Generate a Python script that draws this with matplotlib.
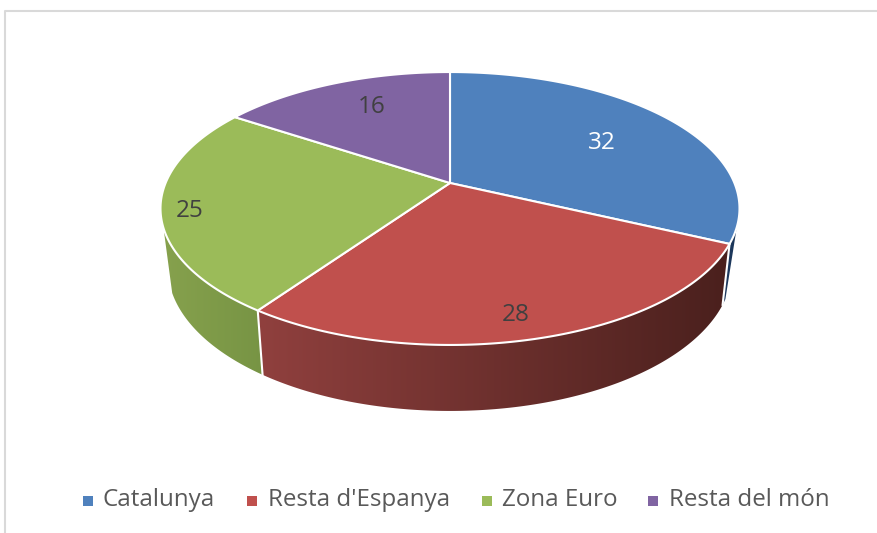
import numpy as np
import matplotlib
matplotlib.use("Agg")
from matplotlib import pyplot as plt
from matplotlib.patches import Polygon

# Data, the shares are estimated from the slice edges, labels show them rounded
categories = ['Catalunya', "Resta d'Espanya", 'Zona Euro', 'Resta del món']
values = [32.0, 27.7, 24.6, 15.7]
colors = ['#4F81BD', '#C0504D', '#9BBB59', '#8064A2']
label_colors = ['white', '#404040', '#404040', '#404040']

# Pie geometry in pixels, the tilt is a simple perspective projection
cx, cy = 450, 183
a, b, k = 284.4, 131.7, 0.1868
text_font = ['Open Sans', 'DejaVu Sans']


def top_rim(theta):
    x = np.sin(theta)
    y = np.cos(theta)
    d = 1 + k * y
    return cx + a * x / d, cy - b * y / d


def bottom_rim(theta):
    x, y = top_rim(theta)
    return cx + 0.975 * (x - cx), y + 66 - (345 - y) * 0.05


def angle_at_y(rim, target_y, lo, hi):
    # angle between lo and hi (degrees) where the rim passes target_y
    t = np.radians(np.linspace(lo, hi, 721))
    return t[np.argmin(np.abs(rim(t)[1] - target_y))]


def side_wall(ax, t_seam, t_top, t_bottom, left_color, right_color):
    xt, yt = top_rim(np.linspace(t_seam, t_top, 200))
    xb, yb = bottom_rim(np.linspace(t_bottom, t_seam, 200))
    pts = np.r_[np.c_[xt, yt], np.c_[xb, yb]]
    poly = Polygon(pts, closed=True, facecolor='none', edgecolor='none')
    ax.add_patch(poly)
    x0, x1 = pts[:, 0].min(), pts[:, 0].max()
    left = np.array(matplotlib.colors.to_rgb(left_color))
    right = np.array(matplotlib.colors.to_rgb(right_color))
    grad = np.linspace(0, 1, 256)[None, :, None]
    img = left[None, None, :] * (1 - grad) + right[None, None, :] * grad
    im = ax.imshow(img, extent=[x0, x1, pts[:, 1].max(), pts[:, 1].min()],
                   aspect='auto', zorder=2, interpolation='bilinear')
    im.set_clip_path(poly)


fig = plt.figure(figsize=(8.78, 5.33), dpi=100)
ax = fig.add_axes([0, 0, 1, 1])

edges = np.r_[0, np.cumsum(values)] / sum(values) * 2 * np.pi

# outer walls, blue and green stop at the silhouette lines of the pie
side_wall(ax, edges[1], angle_at_y(top_rim, 227, 60, 114), angle_at_y(bottom_rim, 299, 60, 114),
          '#1F3A5F', '#1A3558')
# red wall is lighter on the left and goes dark to the right
side_wall(ax, edges[1], edges[2], edges[2], '#90403E', '#4A201D')
side_wall(ax, edges[2], angle_at_y(top_rim, 228, 216, 300), angle_at_y(bottom_rim, 293, 216, 300),
          '#86A14D', '#779444')

ax.set_xlim(0, 878)
ax.set_ylim(533, 0)
ax.axis('off')

# seams between the walls
for e in edges[1:3]:
    xt, yt = top_rim(e)
    xb, yb = bottom_rim(e)
    ax.plot([xt, xb], [yt, yb], color='white', lw=1.5, zorder=3)

# top of the pie
for i in range(len(values)):
    t = np.linspace(edges[i], edges[i + 1], 200)
    xt, yt = top_rim(t)
    pts = np.r_[[[cx, cy]], np.c_[xt, yt]]
    ax.add_patch(Polygon(pts, closed=True, facecolor=colors[i], edgecolor='white',
                         lw=1.5, joinstyle='round', zorder=4))

# data labels
label_x = [602, 516, 190, 372]
label_y = [143, 315, 211, 107]
for i in range(len(values)):
    ax.text(label_x[i], label_y[i], f'{values[i]:.0f}', color=label_colors[i], fontsize=17.5,
            family=text_font, ha='center', va='center', zorder=5)

# legend
marker_x = [88, 252, 487, 653]
text_x = [103, 268, 502, 669]
for i in range(len(categories)):
    ax.scatter(marker_x[i], 501, marker='s', s=52, color=colors[i], linewidths=0, zorder=5)
    ax.text(text_x[i], 500, categories[i], color='#595959', fontsize=17.4,
            family=text_font, ha='left', va='center', zorder=5)

# chart frame
ax.plot([5.5, 5.5, 878], [533, 10.5, 10.5], color='#D9D9D9', lw=1.5, zorder=1)

fig.savefig('out.png', dpi=100)
